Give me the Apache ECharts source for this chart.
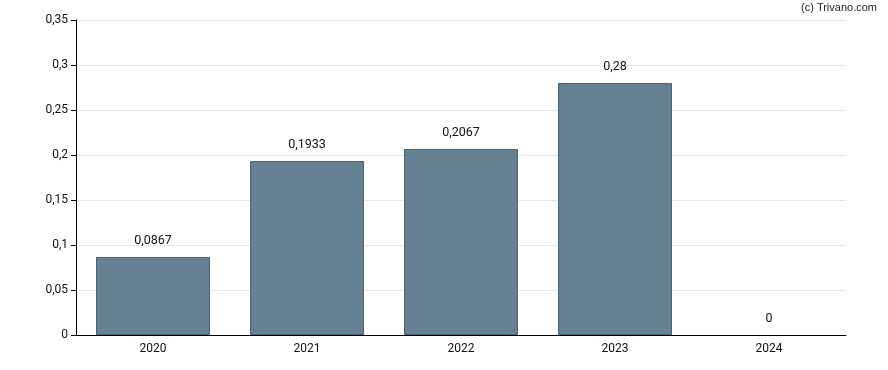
<!DOCTYPE html>
<html><head><meta charset="utf-8">
<script src="https://cdn.jsdelivr.net/npm/echarts@6/dist/echarts.min.js"></script>
<style>html,body{margin:0;padding:0;background:#fff}#c{width:888px;height:370px}</style>
</head><body><div id="c"></div>
<script>
const categories = ['2020','2021','2022','2023','2024'];
const values = [0.0867, 0.1933, 0.2067, 0.28, 0];
const yTicks = {min: 0, max: 0.35, interval: 0.05};

const fmt = v => String(v).replace('.', ',');
const chart = echarts.init(document.getElementById('c'), null, {renderer: 'canvas'});
chart.setOption({
  animation: false,
  textStyle: {fontFamily: 'Roboto'},
  graphic: [{type: 'text', right: 11, top: 2, style: {text: '(c) Trivano.com', font: '11px "Liberation Sans", Arial', fill: '#222'}}],
  grid: {left: 76, right: 42, top: 20, bottom: 35, containLabel: false},
  xAxis: {
    type: 'category', data: categories,
    axisLine: {lineStyle: {color: '#000', width: 1}},
    axisTick: {alignWithLabel: true, length: 5, lineStyle: {color: '#000'}},
    axisLabel: {color: '#111', fontSize: 12, margin: 8}
  },
  yAxis: {
    type: 'value', min: yTicks.min, max: yTicks.max, interval: yTicks.interval,
    axisLine: {show: true, lineStyle: {color: '#000'}},
    axisTick: {show: true, length: 5, lineStyle: {color: '#000'}},
    axisLabel: {color: '#111', fontSize: 12, margin: 8, formatter: fmt},
    splitLine: {lineStyle: {color: '#e6e6e6'}}
  },
  series: [{
    type: 'bar', barWidth: '74%',
    data: values.map(v => ({value: v, itemStyle: {borderWidth: v === 0 ? 0 : 1}})),
    itemStyle: {color: '#668192', borderColor: '#4a6275', borderWidth: 1},
    label: {show: true, position: 'top', distance: 10, color: '#111', fontSize: 12.5, formatter: p => fmt(p.value)}
  }]
});
</script></body></html>
